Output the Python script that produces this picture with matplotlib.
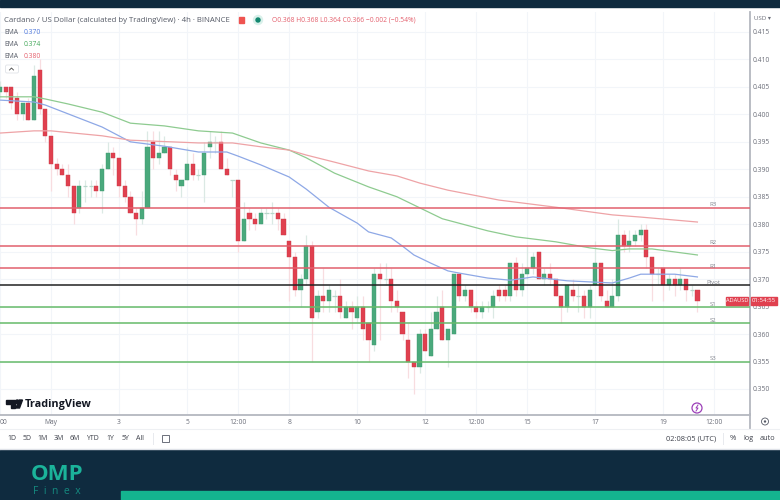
import numpy as np
import matplotlib
matplotlib.use('Agg')
import matplotlib.pyplot as plt
from matplotlib.patches import Rectangle, Circle, Polygon, FancyBboxPatch

plt.rcParams['font.family'] = ['Open Sans', 'DejaVu Sans']

# prices in 1/1000 USD, one candle every 4h
opens = [404, 405, 405, 403, 400, 402, 399, 408, 401, 396,
         391, 390, 389, 387, 383, 387, 387, 387, 386, 390,
         393, 392, 387, 385, 382, 381, 383, 395, 392, 393,
         394, 389, 387, 388, 391, 389, 389, 394, 395, 395,
         390, 388, 388, 377, 382, 381, 380, 382, 382, 382,
         381, 377, 374, 368, 370, 376, 364, 367, 366, 367,
         367, 363, 365, 363, 365, 362, 358, 371, 370, 370,
         366, 364, 359, 355, 354, 360, 356, 361, 365, 359,
         360, 371, 367, 368, 365, 364, 365, 365, 368, 368,
         367, 373, 368, 371, 372, 375, 370, 371, 370, 367,
         365, 368, 367, 367, 365, 369, 373, 366, 365, 367,
         378, 376, 377, 378, 379, 374, 371, 372, 369, 370,
         369, 370, 368, 368]
highs = [406, 405, 405, 404, 402, 403, 409, 410, 401, 396,
         392, 391, 391, 387, 388, 388, 388, 388, 391, 395,
         394, 392, 388, 386, 383, 386, 397, 397, 397, 396,
         394, 390, 388, 394, 393, 390, 395, 397, 396, 397,
         392, 388, 388, 384, 383, 382, 383, 383, 384, 383,
         382, 377, 375, 371, 378, 377, 368, 372, 369, 368,
         370, 366, 366, 367, 367, 362, 372, 373, 373, 372,
         368, 364, 362, 355, 361, 361, 364, 367, 368, 361,
         371, 371, 369, 368, 366, 366, 366, 368, 369, 369,
         373, 374, 373, 376, 375, 375, 372, 373, 370, 367,
         369, 370, 369, 368, 369, 377, 373, 368, 370, 381,
         379, 379, 379, 380, 380, 374, 372, 372, 371, 371,
         372, 370, 369, 368]
lows = [403, 403, 401, 399, 399, 399, 399, 400, 395, 386,
        389, 389, 385, 380, 382, 384, 385, 385, 382, 390,
        389, 385, 384, 382, 378, 380, 383, 390, 391, 393,
        389, 386, 385, 388, 388, 388, 384, 392, 393, 390,
        389, 385, 375, 377, 379, 379, 380, 381, 380, 379,
        378, 366, 367, 365, 369, 355, 363, 364, 364, 364,
        363, 363, 361, 362, 359, 355, 357, 359, 369, 364,
        364, 359, 352, 349, 353, 357, 356, 361, 359, 354,
        360, 366, 366, 364, 363, 363, 364, 363, 366, 366,
        366, 367, 367, 370, 371, 370, 369, 369, 367, 362,
        364, 366, 364, 363, 363, 369, 366, 365, 365, 366,
        375, 375, 376, 377, 372, 366, 369, 366, 368, 367,
        368, 366, 367, 364]
closes = [405, 404, 402, 400, 402, 399, 407, 401, 396, 391,
          390, 389, 387, 382, 387, 387, 387, 386, 390, 393,
          392, 387, 385, 382, 381, 383, 394, 392, 393, 394,
          390, 388, 388, 391, 389, 389, 393, 395, 395, 390,
          389, 388, 377, 381, 381, 380, 382, 382, 382, 381,
          378, 374, 368, 370, 376, 363, 367, 366, 368, 367,
          364, 365, 364, 365, 361, 359, 371, 370, 370, 366,
          365, 360, 355, 354, 360, 357, 361, 364, 359, 361,
          371, 367, 368, 365, 364, 365, 365, 367, 367, 367,
          373, 368, 371, 372, 374, 370, 371, 370, 367, 365,
          369, 367, 367, 365, 368, 373, 367, 365, 367, 378,
          376, 377, 378, 379, 374, 371, 371, 369, 370, 369,
          370, 368, 368, 366]

ema_blue_i = [0, 6, 8, 12, 18, 23, 29, 35, 40, 42, 46, 51, 54, 58, 63, 65, 69, 71, 73, 76, 79, 81, 86, 90, 94, 100, 104, 108, 111, 113, 119, 123]
ema_blue = [402.6, 402.25, 401.7, 400.1, 397.7, 395.0, 394.2, 393.15, 393.15, 392.4, 390.8, 388.6, 386.4, 383.1, 380.2, 378.6,
            377.5, 376.0, 374.4, 372.9, 371.5, 371.1, 370.2, 369.8, 370.4, 369.7, 369.5, 369.3, 370.2, 370.9, 370.9, 370.4]
ema_green_i = [0, 6, 8, 12, 18, 23, 29, 35, 41, 46, 51, 54, 59, 65, 70, 74, 78, 86, 91, 98, 104, 108, 111, 115, 123]
ema_green = [403.2, 403.2, 402.8, 401.9, 400.4, 398.4, 397.9, 397.0, 396.6, 394.8, 393.5, 392.1, 389.3, 386.8, 385.0, 383.0,
             381.0, 378.8, 377.7, 376.8, 375.7, 375.2, 375.5, 375.5, 374.4]
ema_red_i = [0, 6, 9, 18, 23, 35, 41, 46, 51, 54, 59, 65, 70, 74, 79, 86, 88, 98, 108, 113, 123]
ema_red = [396.6, 397.0, 397.0, 396.1, 395.3, 394.8, 394.8, 394.1, 393.5, 392.6, 391.3, 389.7, 388.8, 387.5, 386.2, 384.8,
           384.4, 383.1, 381.7, 381.3, 380.4]

pivot_names = ['R3', 'R2', 'R1', 'Pivot', 'S1', 'S2', 'S3']
pivot_levels = [383, 376, 372, 369, 365, 362, 355]
pivot_colors = ['#e2606e', '#e2606e', '#e2606e', '#222222', '#66bb6a', '#66bb6a', '#66bb6a']

price_ticks = [350, 355, 360, 365, 370, 375, 380, 385, 390, 395, 400, 405, 410, 415]
time_ticks = [0, 9, 21, 33, 42, 51, 63, 75, 84, 93, 105, 117, 126]
time_labels = ['00', 'May', '3', '5', '12:00', '8', '10', '12', '12:00', '15', '17', '19', '12:00']
range_labels = ['1D', '5D', '1M', '3M', '6M', 'YTD', '1Y', '5Y', 'All']

UP = '#4aa97c'
DOWN = '#e0404f'
W, H = 780, 500

fig = plt.figure(figsize=(W / 100, H / 100), dpi=100, facecolor='white')

# main chart
top, bottom, right = 12, 414.5, 749.5
ax = fig.add_axes([0, 1 - bottom / H, right / W, (bottom - top) / H])
px_per_unit = 5.492
ax.set_ylim(415 - (bottom - 32) / px_per_unit, 415 + (32 - top) / px_per_unit)
ax.set_xlim(0, right / 5.67)
for s in ['top', 'left']:
    ax.spines[s].set_visible(False)
for s in ['right', 'bottom']:
    ax.spines[s].set_color('#b4b7bf')
    ax.spines[s].set_linewidth(1.3)

ax.set_yticks(price_ticks)
ax.set_yticklabels(['%.3f' % (p / 1000) for p in price_ticks], fontsize=4.9, color='#6a6d78')
ax.yaxis.tick_right()
ax.set_xticks(time_ticks)
ax.set_xticklabels(time_labels, fontsize=4.9, color='#6a6d78')
ax.get_xticklabels()[0].set_ha('left')
ax.tick_params(axis='y', length=0, pad=2)
ax.tick_params(axis='x', length=0, pad=3.5)
ax.grid(True, color='#f2f5f9', lw=0.8)
ax.set_axisbelow(True)

o = np.array(opens)
c = np.array(closes)
idx = np.arange(len(o))
up = c > o
down = c < o
doji = c == o

ax.vlines(idx[c >= o], np.array(lows)[c >= o], np.array(highs)[c >= o], color='#dbe9e4', lw=0.9, zorder=2)
ax.vlines(idx[down], np.array(lows)[down], np.array(highs)[down], color='#f8dde0', lw=0.9, zorder=2)
ax.bar(idx[up], (c - o)[up], bottom=o[up], width=0.74, color=UP, edgecolor='#3f9a70', lw=0.3, zorder=3)
ax.bar(idx[down], (o - c)[down], bottom=c[down], width=0.74, color=DOWN, edgecolor='#c93a48', lw=0.3, zorder=3)
ax.hlines(o[doji], idx[doji] - 0.36, idx[doji] + 0.36, color='#b7d6ca', lw=0.9, zorder=3)

ax.plot(ema_blue_i, ema_blue, color='#8ea8e6', lw=0.9, zorder=4)
ax.plot(ema_green_i, ema_green, color='#8ecb90', lw=0.9, zorder=4)
ax.plot(ema_red_i, ema_red, color='#eea3a6', lw=0.9, zorder=4)

for name, lev, col in zip(pivot_names, pivot_levels, pivot_colors):
    ax.axhline(lev, color=col, lw=1.1, zorder=5)

# overlay in pixels for everything around the chart
ov = fig.add_axes([0, 0, 1, 1], facecolor='none')
ov.set_xlim(0, W)
ov.set_ylim(H, 0)
ov.axis('off')

ov.add_patch(Rectangle((0, 0), W, 7, color='#0f2b3f'))
ov.add_patch(Rectangle((0, 450), W, 50, color='#0f2b3f'))
ov.add_patch(Rectangle((121, 491), W - 121, 9, color='#14b48f'))
ov.plot([0, W], [428.5, 428.5], color='#eef0f3', lw=0.8)
ov.plot([0, W], [449, 449], color='#dfe2e8', lw=1)
ov.plot([749.5, 749.5], [414, 428], color='#b4b7bf', lw=1.3)

ov.text(4, 20, 'Cardano / US Dollar (calculated by TradingView) · 4h · BINANCE', fontsize=5.6, color='#555a66', va='center')
ov.add_patch(Rectangle((239, 16.5), 5, 6, color='#ef5350'))
ov.add_patch(Circle((258, 20), 4.5, color='#d9f0ea'))
ov.add_patch(Circle((258, 20), 2, color='#12876f'))
ov.text(272, 20, 'O0.368 H0.368 L0.364 C0.366 −0.002 (−0.54%)', fontsize=4.9, color='#e4606d', va='center')

for y, val, col in [(32, '0.370', '#4f78dc'), (44, '0.374', '#43a85a'), (56.5, '0.380', '#e4606d')]:
    ov.text(4, y, 'EMA', fontsize=4.9, color='#555a66', va='center')
    ov.text(23.5, y, val, fontsize=4.9, color=col, va='center')
ov.add_patch(FancyBboxPatch((5.5, 65), 13, 8, boxstyle='round,pad=0,rounding_size=1.5', fc='white', ec='#e0e3e8', lw=0.6))
ov.plot([9.5, 11.5, 13.5], [70, 68, 70], color='#444444', lw=0.6)

pivot_y = [204.5, 243, 266, 283, 304, 320, 358]
for name, y in zip(pivot_names, pivot_y):
    ov.text(713, y, name, fontsize=4.3, color='#80838c', ha='center', va='center')

ov.text(754, 18, 'USD ▾', fontsize=4.4, color='#6a6d78', va='center')
ov.add_patch(Rectangle((725.5, 297), 22.5, 8, color='#e0404f'))
ov.add_patch(Rectangle((750.5, 297), 26.5, 8, color='#e0404f'))
ov.text(736.8, 301, 'ADAUSD', fontsize=4.1, color='white', ha='center', va='center')
ov.text(763.8, 301, '01:54:55', fontsize=4.3, color='white', ha='center', va='center')

# TradingView mark
ov.add_patch(Polygon([(6, 400), (14.5, 400), (14.5, 408), (11, 408), (11, 403.5), (6, 403.5)], color='#131722'))
ov.add_patch(Circle((17.3, 401.8), 1.8, color='#131722'))
ov.add_patch(Polygon([(19.5, 408), (15.8, 408), (19.5, 400), (22.5, 400)], color='#131722'))
ov.text(25, 404, 'TradingView', fontsize=7.8, fontweight='bold', color='#131722', va='center')

ov.add_patch(Circle((697, 408), 5, fc='white', ec='#9c3fb8', lw=0.9))
ov.plot([698, 696, 698, 696], [405, 408, 408, 411], color='#9c3fb8', lw=0.7)
ov.add_patch(Circle((765, 421.5), 3.5, fc='white', ec='#555a66', lw=0.6))
ov.add_patch(Circle((765, 421.5), 1.2, fc='#555a66', ec='none'))

range_x = [12, 27, 43, 59, 75, 92, 110, 125, 140]
for x, lab in zip(range_x, range_labels):
    ov.text(x, 438.5, lab, fontsize=5, color='#3d404a', ha='center', va='center')
ov.plot([152.5, 152.5], [433, 444], color='#e8eaee', lw=0.7)
ov.add_patch(Rectangle((162, 435), 7, 7, fc='none', ec='#555a66', lw=0.6))
ov.text(691, 438.5, '02:08:05 (UTC)', fontsize=5.4, color='#3d404a', ha='center', va='center')
ov.plot([722.5, 722.5], [433, 444], color='#e8eaee', lw=0.7)
ov.text(733, 438.5, '%', fontsize=5.6, color='#3d404a', ha='center', va='center')
ov.text(748, 438.5, 'log', fontsize=5.2, color='#3d404a', ha='center', va='center')
ov.text(767, 438.5, 'auto', fontsize=5.2, color='#3d404a', ha='center', va='center')

ov.text(57, 475, 'OMP', fontsize=16, fontweight='bold', color='#1bb39a', ha='center', va='center')
ov.text(57, 491, 'F  i  n  e  x', fontsize=7.5, color='#158a80', ha='center', va='center')

fig.savefig('out.png', dpi=100)
